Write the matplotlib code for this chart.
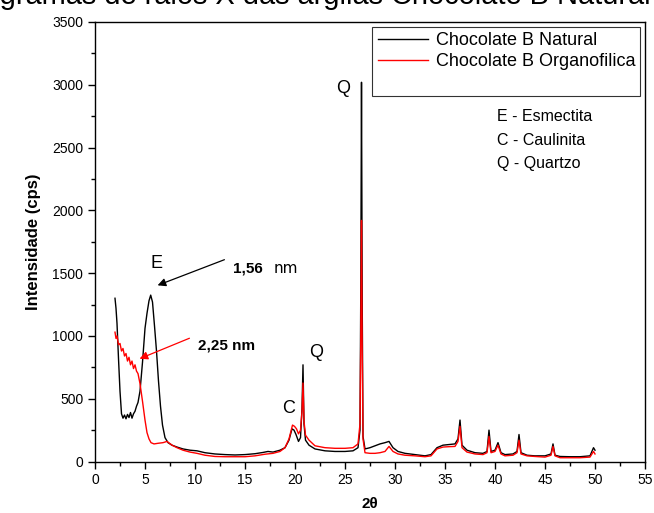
import numpy as np
import matplotlib
matplotlib.use('Agg')
import matplotlib.pyplot as plt
from matplotlib.ticker import MultipleLocator

plt.rcParams['font.family'] = ['Liberation Sans', 'DejaVu Sans']

# ---- data (2theta, cps) ----
two_theta_nat = [2.0, 2.1, 2.2, 2.35, 2.5, 2.65, 2.8, 2.95, 3.1, 3.25, 3.4, 3.55, 3.7, 3.85,
                 4.0, 4.15, 4.3, 4.5, 4.75, 5.0, 5.2, 5.4, 5.57, 5.75, 5.95, 6.15, 6.35, 6.55,
                 6.75, 7.0, 7.3, 7.7, 8.2, 8.8, 9.5, 10.2, 11, 12, 13, 14, 15, 16, 16.8, 17.3,
                 17.8, 18.5, 19.0, 19.4, 19.7, 19.9, 20.1, 20.35, 20.55, 20.7, 20.8, 20.9,
                 21.05, 21.4, 22, 23, 24, 25, 25.8, 26.3, 26.5, 26.58, 26.65, 26.72, 26.8,
                 27.0, 27.5, 28, 28.5, 29, 29.4, 29.8, 30.3, 31, 32, 33, 33.6, 34.2, 34.8,
                 35.4, 36.0, 36.3, 36.5, 36.7, 37.2, 38, 38.8, 39.2, 39.4, 39.6, 40.0, 40.3,
                 40.6, 41, 41.8, 42.2, 42.4, 42.6, 43.2, 44, 45, 45.6, 45.8, 46.0, 46.5,
                 47.5, 48.5, 49.5, 49.85, 50.0]
cps_nat = [1300, 1220, 1100, 820, 560, 380, 345, 370, 340, 375, 350, 390, 345, 380,
           400, 440, 470, 560, 790, 1060, 1180, 1280, 1325, 1270, 1080, 880, 640, 440,
           290, 190, 150, 130, 115, 100, 90, 85, 70, 60, 55, 52, 55, 62, 72, 80,
           75, 90, 110, 170, 260, 250, 215, 160, 190, 420, 770, 300,
           170, 130, 100, 85, 80, 80, 85, 110, 250, 1400, 3020, 1300, 200,
           100, 110, 125, 140, 150, 160, 110, 80, 65, 55, 45, 55, 110, 130,
           135, 140, 180, 330, 130, 90, 70, 65, 80, 250, 80, 90, 150,
           70, 55, 60, 80, 215, 70, 50, 45, 45, 60, 140, 50, 40,
           38, 38, 45, 110, 90]

two_theta_org = [2.0, 2.1, 2.2, 2.35, 2.5, 2.65, 2.8, 2.95, 3.1, 3.25, 3.4, 3.55, 3.7, 3.85,
                 4.0, 4.15, 4.3, 4.5, 4.75, 5.0, 5.2, 5.4, 5.6, 5.9, 6.3, 6.8, 7.2, 7.7,
                 8.2, 8.8, 9.5, 10.2, 11, 12, 13, 14, 15, 16, 17, 17.8, 18.5, 19.0, 19.4,
                 19.75, 19.95, 20.15, 20.35, 20.55, 20.7, 20.8, 20.9, 21.05, 21.4, 22, 23,
                 24, 25, 25.8, 26.3, 26.5, 26.58, 26.65, 26.72, 26.8, 27.0, 27.5, 28, 28.5,
                 29, 29.4, 29.8, 30.3, 31, 32, 33, 33.6, 34.2, 34.8, 35.4, 36.0, 36.3, 36.5,
                 36.7, 37.2, 38, 38.8, 39.2, 39.4, 39.6, 40.0, 40.3, 40.6, 41, 41.8, 42.2,
                 42.4, 42.6, 43.2, 44, 45, 45.6, 45.8, 46.0, 46.5, 47.5, 48.5, 49.5, 49.85,
                 50.0]
cps_org = [1030, 980, 1000, 930, 940, 880, 900, 840, 860, 800, 830, 770, 800, 740,
           770, 720, 700, 620, 480, 330, 230, 180, 150, 140, 145, 150, 160, 130,
           110, 90, 75, 65, 50, 40, 38, 38, 38, 45, 58, 65, 80, 110, 180,
           290, 280, 260, 220, 250, 400, 625, 320, 210, 170, 125, 110,
           105, 105, 110, 140, 300, 1000, 1920, 900, 180, 70, 65, 65, 70,
           80, 120, 80, 60, 50, 45, 38, 45, 100, 115, 118, 120, 160, 280,
           110, 75, 60, 55, 70, 200, 70, 80, 130, 60, 45, 50, 70,
           170, 60, 45, 40, 35, 50, 120, 45, 30, 30, 30, 35, 80,
           60]

series_names = ['Chocolate B Natural', 'Chocolate B Organofilica']
phase_key = ['E - Esmectita', 'C - Caulinita', 'Q - Quartzo']
phase_key_y = [2746, 2560, 2370]
title = 'Difratogramas de raios X das argilas Chocolate B Natural e Organofílica'

fig = plt.figure(figsize=(6.54, 5.13), dpi=100)
ax = fig.add_axes([95/654, 1-461.5/513, 550/654, 439.5/513])

ax.plot(two_theta_nat, cps_nat, color='black', lw=1.0, label=series_names[0])
ax.plot(two_theta_org, cps_org, color='red', lw=1.0, label=series_names[1])
ax.plot([], [], color='none', label=' ')

ax.set_xlim(0, 55)
ax.set_ylim(0, 3500)
ax.xaxis.set_major_locator(MultipleLocator(5))
ax.xaxis.set_minor_locator(MultipleLocator(2.5))
ax.yaxis.set_major_locator(MultipleLocator(500))
ax.yaxis.set_minor_locator(MultipleLocator(250))
ax.tick_params(which='both', direction='out', labelsize=10, width=1)
ax.tick_params(which='major', length=5)
ax.tick_params(which='minor', length=3)
for s in ax.spines.values():
    s.set_linewidth(1.0)

ax.set_xlabel('2θ', fontsize=11, fontweight='bold', labelpad=7)
ax.set_ylabel('Intensidade (cps)', fontsize=12, fontweight='bold', labelpad=8)

leg = ax.legend(loc='upper right', fontsize=13, frameon=True, fancybox=False,
                edgecolor='black', borderaxespad=0.25, handlelength=2.8,
                handletextpad=0.4, labelspacing=0.22, borderpad=0.3)
leg.get_frame().set_linewidth(0.8)

for t, yk in zip(phase_key, phase_key_y):
    ax.text(40.2, yk, t, fontsize=11.5, va='center', ha='left')

# peak labels
ax.text(6.1, 1580, 'E', fontsize=13, ha='center', va='center')
ax.text(19.4, 420, 'C', fontsize=13, ha='center', va='center')
ax.text(22.1, 870, 'Q', fontsize=13, ha='center', va='center')
ax.text(24.8, 2970, 'Q', fontsize=13, ha='center', va='center')

ax.annotate('', xy=(6.0, 1395), xytext=(13.2, 1615),
            arrowprops=dict(arrowstyle='-|>', color='black', lw=0.9, mutation_scale=12))
ax.text(13.8, 1540, '1,56', fontsize=11, fontweight='bold', va='center')
ax.text(17.9, 1540, 'nm', fontsize=11, family='DejaVu Sans', va='center')

ax.annotate('', xy=(4.2, 810), xytext=(9.7, 990),
            arrowprops=dict(arrowstyle='-|>', color='red', lw=0.9, mutation_scale=12))
ax.text(10.3, 925, '2,25 nm', fontsize=11, fontweight='bold', va='center')

# title is cut by the top edge in the reference: size it so "gramas ... Natural"
# spans the width, and shift it so "Difrato" falls off the left side
r = fig.canvas.get_renderer()
probe = fig.text(0, 0, 'gramas de raios X das argilas Chocolate B Natural', fontsize=20)
w20 = probe.get_window_extent(r).width
probe.remove()
tsize = 20 * 650 / w20
probe = fig.text(0, 0, 'Difrato', fontsize=tsize)
wpre = probe.get_window_extent(r).width
probe.remove()
fig.text(-wpre / 654, 1 - 4/513, title, fontsize=tsize, ha='left', va='baseline')

fig.savefig('out.png', dpi=100)
